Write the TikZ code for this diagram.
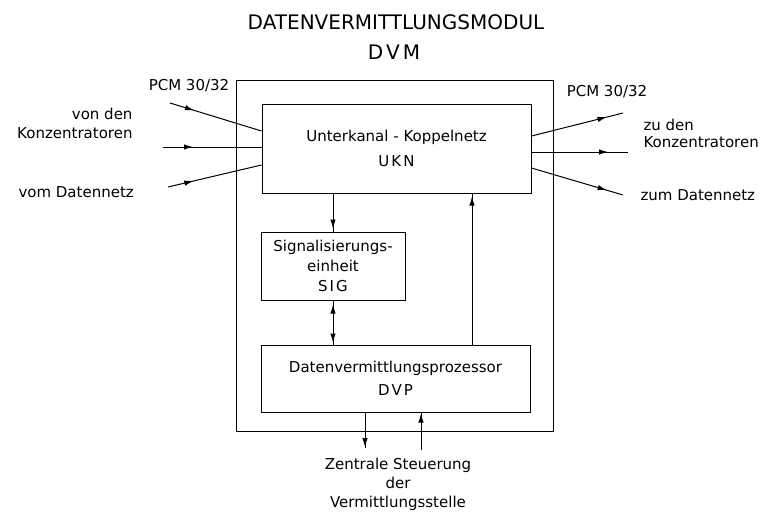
\documentclass[tikz,border=0pt]{standalone}
\usepackage{fontspec}
\setmainfont{DejaVu Sans}
\usetikzlibrary{arrows.meta,decorations.markings,calc}

\begin{document}
\begin{tikzpicture}[x=1pt,y=-1pt,
  line width=1pt,
  box/.style={draw, rectangle, inner sep=0pt, align=center},
  lbl/.style={inner sep=0pt, font=\fontsize{15}{18}\selectfont},
  headtip/.tip={Latex[length=9pt,width=5.5pt]},
  tip/.style={postaction={decorate}, decoration={markings,
      mark=at position #1 with {\arrow{headtip}}}},
  tipboth/.style 2 args={postaction={decorate}, decoration={markings,
      mark=at position #1 with {\arrowreversed{headtip}},
      mark=at position #2 with {\arrow{headtip}}}}
]
\useasboundingbox (0,0) rectangle (762,512);

% title
\node[inner sep=0pt, font=\fontsize{20}{24}\selectfont] (title) at (396,22) {DATENVERMITTLUNGSMODUL};
\node[inner sep=0pt, font=\fontsize{20}{24}\selectfont] (titleab) at (394,52) {D\hspace{3pt}V\hspace{3pt}M};

% module frame and function blocks
\node[box, minimum width=317pt, minimum height=351pt] (dvm) at (394.5,255.5) {};
\node[box, minimum width=269pt, minimum height=89pt, font=\fontsize{15}{25}\selectfont] (ukn) at (396.5,148.5)
  {Unterkanal - Koppelnetz\\U\hspace{2pt}K\hspace{2pt}N};
\node[box, minimum width=144pt, minimum height=68pt, font=\fontsize{15}{20}\selectfont] (sig) at (333,266)
  {Signalisierungs-\\einheit\\S\hspace{2pt}I\hspace{2pt}G};
\node[box, minimum width=269pt, minimum height=67pt, font=\fontsize{15}{23}\selectfont] (dvp) at (395.5,378.5)
  {Datenvermittlungsprozessor\\D\hspace{2pt}V\hspace{2pt}P};

% external labels
\node[lbl] (pcml) at (189,86) {PCM 30/32};
\node[lbl] (pcmr) at (607,92) {PCM 30/32};
\node[lbl, anchor=east, align=right, font=\fontsize{15}{19}\selectfont] (vonk) at (133,123) {von den\\Konzentratoren};
\node[lbl, anchor=west] (vomd) at (18,192) {vom Datennetz};
\node[lbl, anchor=west, align=left, font=\fontsize{15}{17}\selectfont] (zuk) at (643,133) {zu den\\Konzentratoren};
\node[lbl, anchor=west] (zumd) at (640,195) {zum Datennetz};
\node[lbl, align=center, font=\fontsize{15}{19}\selectfont] (zst) at (398,484) {Zentrale Steuerung\\der\\Vermittlungsstelle};

% free ends of the outside lines
\coordinate (inA) at (170,103);
\coordinate (inB) at (163,147);
\coordinate (inC) at (168,187);
\coordinate (outA) at (623,113);
\coordinate (outB) at (628,152);
\coordinate (outC) at (623,195);
\coordinate (zsA) at (365,448);
\coordinate (zsB) at (421,450);

% incoming PCM lines
\draw[tip=25pt] (inA) -- ($(ukn.west)+(0,-17.5)$);
\draw[tip=30pt] (inB) -- (ukn.west |- inB);
\draw[tip=26pt] (inC) -- ($(ukn.west)+(0,16.5)$);

% outgoing PCM lines
\draw[tip=-17pt] ($(ukn.east)+(0,-12.5)$) -- (outA);
\draw[tip=-20pt] (ukn.east |- outB) -- (outB);
\draw[tip=-17pt] ($(ukn.east)+(0,19.5)$) -- (outC);

% internal connections
\draw[tip=-3pt] (ukn.south -| sig.north) -- (sig.north);
\draw[tip=-3pt] (dvp.north -| 472,0) -- (ukn.south -| 472,0);
\draw[tipboth={4pt}{-2pt}] (sig.south) -- (dvp.north -| sig.south);

% central control
\draw[tip=-1pt] (dvp.south -| zsA) -- (zsA);
\draw[tip=-1pt] (zsB) -- (dvp.south -| zsB);
\end{tikzpicture}
\end{document}
